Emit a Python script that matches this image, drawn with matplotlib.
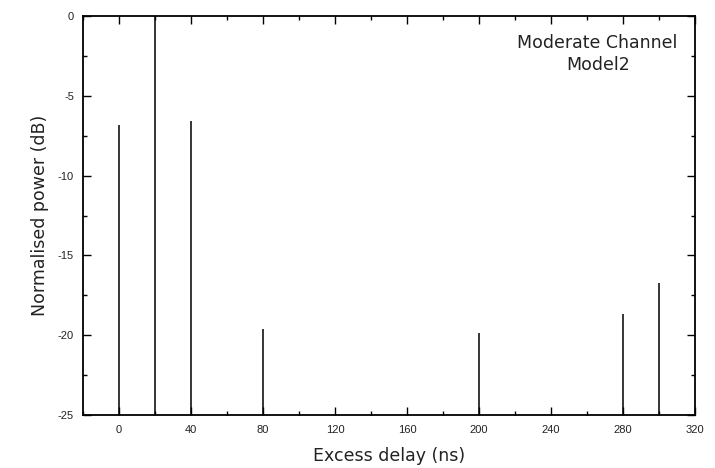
#!/usr/bin/env python3
"""
Power delay profile, moderate channel model 2.

Stem plot of normalised tap power against excess delay.
"""

import matplotlib
matplotlib.use('Agg')  # Non-interactive backend
import matplotlib.pyplot as plt
from matplotlib.ticker import MultipleLocator

# Tap delays (ns) and normalised power (dB)
delays_ns = [0, 20, 40, 80, 200, 280, 300]
power_db = [-6.8, 0.0, -6.6, -19.6, -19.85, -18.65, -16.75]

x_ticks = [0, 40, 80, 120, 160, 200, 240, 280, 320]
y_ticks = [0, -5, -10, -15, -20, -25]

plt.rcParams['axes.unicode_minus'] = False  # plain hyphen on tick labels


def main():
    fig = plt.figure(figsize=(7.15, 4.68), dpi=100)
    ax = fig.add_axes([0.116, 0.1132, 0.856, 0.8526])

    floor = -25
    ax.vlines(delays_ns, floor, power_db, color='black', linewidth=1.1)

    ax.set_xlim(-20, 320)
    ax.set_ylim(-25, 0)
    ax.set_xticks(x_ticks)
    ax.set_yticks(y_ticks)
    ax.xaxis.set_minor_locator(MultipleLocator(20))
    ax.yaxis.set_minor_locator(MultipleLocator(2.5))

    ax.tick_params(which='both', direction='in', top=True, right=True,
                   width=1.0, color='black')
    ax.tick_params(which='major', length=6)
    ax.tick_params(which='minor', length=3)
    ax.tick_params(axis='x', which='major', pad=7.5)
    ax.tick_params(axis='y', which='major', pad=6.5)
    for lbl in ax.get_xticklabels() + ax.get_yticklabels():
        lbl.set_fontfamily('Liberation Sans')
        lbl.set_fontsize(8)
        lbl.set_color('#222222')

    for spine in ax.spines.values():
        spine.set_linewidth(1.3)

    ax.set_xlabel('Excess delay (ns)', fontsize=12.5, family='DejaVu Sans',
                  labelpad=8, color='#222222')
    ax.set_ylabel('Normalised power (dB)', fontsize=12.5, family='DejaVu Sans',
                  labelpad=6, color='#222222')

    ax.text(0.841, 0.905, 'Moderate Channel\nModel2', transform=ax.transAxes,
            ha='center', va='center', fontsize=12.5, family='DejaVu Sans',
            linespacing=1.3, color='#222222')

    fig.savefig('out.png', dpi=100)
    plt.close(fig)


if __name__ == "__main__":
    main()
